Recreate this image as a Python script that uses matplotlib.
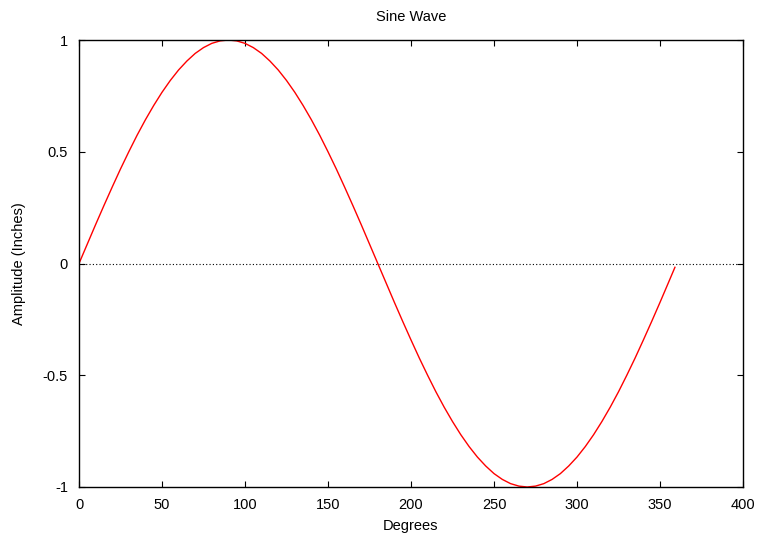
import matplotlib
matplotlib.use("Agg")
import matplotlib.pyplot as plt

# ---------------------------------------------------------------- data
degrees = list(range(0, 360, 5)) + [359]
quarter = [0.000, 0.087, 0.174, 0.259, 0.342, 0.423, 0.500, 0.574, 0.643, 0.707,
           0.766, 0.819, 0.866, 0.906, 0.940, 0.966, 0.985, 0.996, 1.000]
rise = quarter
fall = quarter[::-1][1:]
amplitude = rise + fall + [-v for v in rise[1:]] + [-v for v in fall[:-1]] + [-0.017]

x_ticks = [0, 50, 100, 150, 200, 250, 300, 350, 400]
y_ticks = [-1, -0.5, 0, 0.5, 1]
y_tick_labels = ["-1", "-0.5", "0", "0.5", "1"]

# ---------------------------------------------------------------- plot
plt.rcParams["font.family"] = ["Liberation Sans", "DejaVu Sans"]
plt.rcParams["font.size"] = 10.5

fig = plt.figure(figsize=(7.57, 5.33), dpi=100)
ax = fig.add_axes([79 / 757, 1 - 487 / 533, (743 - 79) / 757, (487 - 40) / 533])

ax.axhline(0, color="black", linestyle=(0, (1, 2)), linewidth=0.8)
ax.plot(degrees, amplitude, color="red", linewidth=1.0)

ax.set_xlim(0, 400)
ax.set_ylim(-1, 1)
ax.set_xticks(x_ticks)
ax.set_yticks(y_ticks)
ax.set_yticklabels(y_tick_labels)
ax.tick_params(direction="in", length=4.5, width=0.8, top=True, right=True,
               pad=8, labelsize=10.5)
for s in ax.spines.values():
    s.set_linewidth(1.0)

ax.set_xlabel("Degrees", labelpad=5)
ax.set_ylabel("Amplitude (Inches)", labelpad=12)
ax.set_title("Sine Wave", fontsize=10.5, pad=14)

fig.savefig("out.png", dpi=100)
